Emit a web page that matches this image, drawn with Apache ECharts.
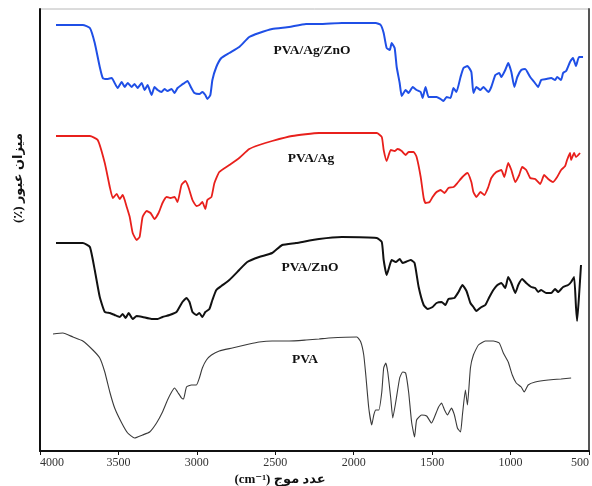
<!DOCTYPE html>
<html>
<head>
<meta charset="utf-8">
<script src="https://cdn.jsdelivr.net/npm/echarts@6/dist/echarts.min.js"></script>
<style>html,body{margin:0;padding:0;background:#fff}#c{width:592px;height:486px}</style>
</head>
<body>
<div id="c"></div>
<script>
// Tick labels of the wavenumber axis (cm-1)
const xTicks = [4000, 3500, 3000, 2500, 2000, 1500, 1000, 500];
const seriesNames = ['PVA/Ag/ZnO', 'PVA/Ag', 'PVA/ZnO', 'PVA'];

// PVA/Ag/ZnO (offset transmittance, arbitrary units)
const agZnoWn = [3898,3727,3682,3651,3619,3600,3574,3543,3524,3505,3479,3460,3441,3416,3397,3378,3352,3333,3314,3289,3270,3250,3225,3206,3187,3161,3142,3123,3098,3079,3060,3035,3015,2984,2965,2946,2933,2914,2901,2876,2844,2793,2730,2666,2603,2520,2412,2304,2221,2075,1859,1828,1809,1790,1770,1758,1739,1726,1707,1694,1669,1650,1624,1599,1573,1561,1542,1523,1497,1472,1446,1427,1408,1383,1364,1345,1319,1300,1275,1250,1237,1218,1192,1173,1142,1123,1097,1072,1059,1034,1015,995,976,957,932,907,875,849,824,805,773,741,716,703,678,665,646,621,602,583,564,538];
const agZnoT  = [426,426,423,408,384,373,372,373,368,363,369,364,368,364,367,363,368,361,366,356,364,361,359,362,360,362,358,363,366,368,370,363,358,357,359,356,352,356,371,384,393,398,404,414,418,422,424,427,427,428,428,426,418,403,401,408,403,384,368,355,361,358,364,361,359,353,364,354,354,354,352,350,354,353,363,359,374,383,385,379,358,364,361,364,359,364,376,378,374,381,388,379,364,374,381,382,374,369,364,371,372,373,371,374,371,378,380,389,393,385,394,394];

// PVA/Ag
const agWn = [3898,3682,3632,3587,3555,3536,3511,3492,3473,3460,3447,3428,3409,3384,3365,3346,3320,3295,3270,3244,3219,3193,3168,3142,3123,3098,3073,3054,3028,3003,2984,2965,2946,2933,2907,2888,2857,2793,2730,2666,2603,2520,2393,2221,2075,1853,1821,1809,1790,1764,1739,1720,1694,1669,1650,1618,1599,1573,1554,1542,1516,1497,1472,1446,1421,1396,1364,1339,1307,1275,1250,1237,1218,1192,1167,1142,1123,1091,1059,1040,1015,995,970,945,926,900,875,843,811,786,760,729,703,678,652,640,621,614,595,583,557];
const agT  = [315,315,311,288,264,253,257,252,256,251,244,234,218,211,214,234,240,238,232,238,248,254,253,254,249,266,270,264,251,245,246,249,242,251,254,268,279,286,293,302,306,310,315,318,318,318,314,301,290,301,300,302,300,296,299,299,294,274,253,248,249,254,259,261,258,263,264,268,274,278,269,259,254,259,256,264,273,279,281,274,288,281,269,276,284,281,273,272,267,276,272,269,274,281,285,291,298,291,298,294,298];

// PVA/ZnO
const znoWn = [3898,3727,3682,3651,3619,3587,3555,3524,3492,3473,3454,3435,3409,3384,3346,3289,3250,3219,3174,3130,3092,3066,3047,3028,3003,2984,2965,2946,2920,2901,2876,2844,2793,2730,2679,2603,2520,2456,2368,2221,2075,1853,1821,1809,1790,1770,1758,1732,1707,1688,1669,1637,1612,1586,1554,1529,1497,1472,1440,1415,1396,1358,1332,1307,1281,1256,1237,1218,1186,1161,1135,1110,1084,1059,1034,1015,995,970,951,926,900,868,843,824,805,773,741,716,697,665,633,614,595,583,576,564,551];
const znoT  = [208,208,204,181,154,139,138,136,134,137,133,138,132,135,134,132,132,134,136,139,149,153,149,139,136,138,134,139,142,151,161,165,171,181,189,194,198,206,208,212,214,213,209,191,176,186,191,189,192,188,189,191,188,164,146,142,144,148,149,146,152,153,159,166,160,148,144,140,144,146,154,161,166,168,163,174,168,158,166,172,168,164,163,159,161,158,158,162,159,164,166,169,174,144,130,154,186];

// PVA
const pvaWn = [3917,3854,3790,3727,3663,3619,3587,3555,3524,3479,3441,3397,3346,3301,3257,3219,3187,3161,3142,3123,3098,3085,3066,3035,3003,2984,2965,2939,2907,2857,2774,2666,2603,2520,2412,2304,2221,2158,1980,1955,1936,1923,1904,1885,1872,1859,1840,1821,1809,1796,1783,1764,1751,1732,1707,1688,1669,1650,1631,1612,1599,1567,1535,1504,1485,1459,1440,1421,1402,1377,1358,1339,1319,1307,1288,1275,1256,1237,1205,1161,1110,1072,1046,1015,989,964,932,913,888,843,760,678,614];
const pvaT  = [117,118,114,110,101,93,79,59,43,28,18,13,16,19,28,39,51,59,63,59,53,52,64,66,66,73,83,91,96,100,103,107,109,110,110,111,112,113,114,109,96,76,43,26,36,41,41,59,83,88,79,53,33,49,73,79,78,59,29,14,31,36,35,28,34,44,48,41,36,43,36,23,19,36,61,46,83,96,106,110,110,108,98,89,76,68,64,59,66,69,71,72,73];

const pair = (xs, ys) => xs.map((x, i) => [x, ys[i]]);

const serif = '"Liberation Serif", "Times New Roman", "DejaVu Serif", serif';
const arabicFont = '"Liberation Serif", "DejaVu Sans", "Noto Sans", sans-serif';
const labelFont = 'bold 13.5px ' + serif;

const chart = echarts.init(document.getElementById('c'), null, {renderer: 'canvas'});
chart.setOption({
  animation: false,
  backgroundColor: '#ffffff',
  grid: {left: 40, right: 2, top: 9, bottom: 35, show: true, borderColor: '#b8b8b8', borderWidth: 1},
  xAxis: {
    type: 'value', inverse: true, min: 500, max: 4000, interval: 500,
    axisLine: {show: true, onZero: false, lineStyle: {color: '#111', width: 2}},
    axisTick: {show: true, length: 4, lineStyle: {color: '#111', width: 1}},
    splitLine: {show: false},
    axisLabel: {
      margin: 6, color: '#333', fontFamily: serif, fontSize: 12,
      alignMinLabel: 'right', alignMaxLabel: 'left',
      formatter: v => xTicks.includes(v) ? String(v) : ''
    }
  },
  yAxis: [{
    type: 'value', min: 0, max: 442, position: 'left',
    axisLine: {show: true, lineStyle: {color: '#111', width: 2}},
    axisTick: {show: false}, axisLabel: {show: false}, splitLine: {show: false}
  }, {
    type: 'value', min: 0, max: 442, position: 'right',
    axisLine: {show: true, lineStyle: {color: '#555', width: 2}},
    axisTick: {show: false}, axisLabel: {show: false}, splitLine: {show: false}
  }],
  series: [
    {name: seriesNames[0], type: 'line', data: pair(agZnoWn, agZnoT), showSymbol: false, smooth: 0.15,
     lineStyle: {color: '#1f4fe6', width: 2}},
    {name: seriesNames[1], type: 'line', data: pair(agWn, agT), showSymbol: false, smooth: 0.15,
     lineStyle: {color: '#e8201c', width: 1.8}},
    {name: seriesNames[2], type: 'line', data: pair(znoWn, znoT), showSymbol: false, smooth: 0.15,
     lineStyle: {color: '#111111', width: 2}},
    {name: seriesNames[3], type: 'line', data: pair(pvaWn, pvaT), showSymbol: false, smooth: 0.15,
     lineStyle: {color: '#3a3a3a', width: 1.1}}
  ],
  graphic: [
    {type: 'text', x: 312, y: 51, style: {text: seriesNames[0], font: labelFont, fill: '#111', align: 'center', verticalAlign: 'middle'}},
    {type: 'text', x: 311, y: 159, style: {text: seriesNames[1], font: labelFont, fill: '#111', align: 'center', verticalAlign: 'middle'}},
    {type: 'text', x: 310, y: 268, style: {text: seriesNames[2], font: labelFont, fill: '#111', align: 'center', verticalAlign: 'middle'}},
    {type: 'text', x: 305, y: 360, style: {text: seriesNames[3], font: labelFont, fill: '#111', align: 'center', verticalAlign: 'middle'}},
    {type: 'text', x: 280, y: 480, style: {text: '(cm\u207B\u00B9) عدد موج', font: 'bold 13px ' + arabicFont, fill: '#111', align: 'center', verticalAlign: 'middle'}},
    {type: 'text', x: 19, y: 178, rotation: Math.PI / 2, style: {text: '(٪) میزان عبور', font: 'bold 13px ' + arabicFont, fill: '#111', align: 'center', verticalAlign: 'middle'}}
  ]
});
</script>
</body>
</html>
